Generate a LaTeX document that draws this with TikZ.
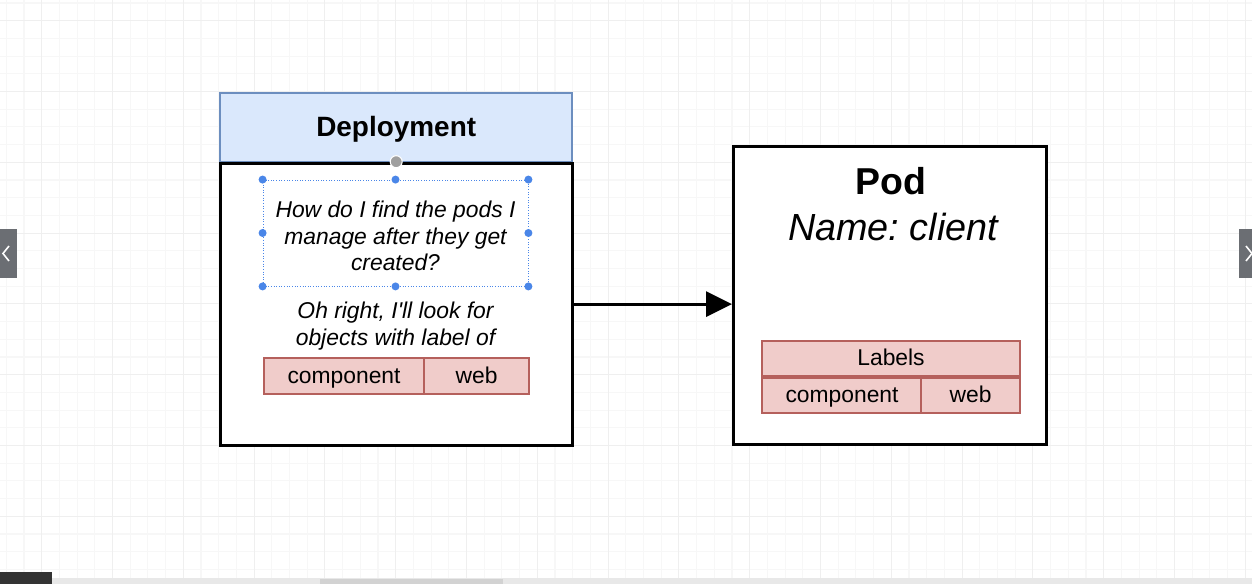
\documentclass[tikz,border=0pt]{standalone}
\usepackage{fontspec}
\setmainfont{Liberation Sans}
\usetikzlibrary{arrows.meta,positioning}
\definecolor{depfill}{HTML}{DAE8FC}
\definecolor{depline}{HTML}{6C8EBF}
\definecolor{lblfill}{HTML}{F0CCCA}
\definecolor{lblline}{HTML}{B5605C}
\definecolor{handle}{HTML}{4A86E8}
\definecolor{gridminor}{HTML}{F7F7F7}
\definecolor{gridmajor}{HTML}{EFEFEF}
\definecolor{chrome}{HTML}{6B6E73}
\tikzset{
  box/.style={draw=black, line width=1.7pt, fill=white, inner sep=0pt},
  header/.style={draw=depline, line width=1.4pt, fill=depfill, inner sep=0pt,
    text height=1.05em, text depth=0.08em,
    font=\fontsize{15.9}{19}\selectfont\bfseries},
  lblcell/.style={draw=lblline, line width=1.2pt, fill=lblfill, inner sep=0pt,
    text height=0.95em, text depth=0.13em,
    font=\fontsize{13}{15}\selectfont},
  note/.style={align=center, inner sep=0pt, font=\fontsize{13}{15}\selectfont\itshape},
  handledot/.style={circle, fill=handle, inner sep=0pt, minimum size=0.16cm},
}
\frenchspacing
\begin{document}
\begin{tikzpicture}[x=0.02cm,y=-0.02cm]
\useasboundingbox (0,0) rectangle (1252,584);
\fill[white] (0,0) rectangle (1252,584);
% background grid, one major line every four
\foreach \i in {0,...,70}
  \draw[gridminor, line width=0.6pt] (6.3+17.7*\i,0) -- (6.3+17.7*\i,584);
\foreach \j in {0,...,32}
  \draw[gridminor, line width=0.6pt] (0,3+17.7*\j) -- (1252,3+17.7*\j);
\foreach \i in {2,6,...,70}
  \draw[gridmajor, line width=0.6pt] (6.3+17.7*\i,0) -- (6.3+17.7*\i,584);
\foreach \j in {1,5,...,32}
  \draw[gridmajor, line width=0.6pt] (0,3+17.7*\j) -- (1252,3+17.7*\j);

% Deployment
\node[header, minimum width=7.04cm, minimum height=1.38cm, anchor=north west] (dephead) at (219,92) {Deployment};
\node[box, minimum width=7.04cm, minimum height=5.64cm, below=-1pt of dephead] (depbody) {};
\node[circle, fill=gray!75, draw=white, line width=0.6pt, minimum size=0.24cm, inner sep=0pt] (rotate) at (depbody.north) {};
\node[note] (question) at (395.5,236) {How do I find the pods I\\manage after they get\\created?};
\node[draw=handle, densely dotted, line width=0.5pt, minimum width=5.3cm, minimum height=2.12cm] (selbox) at (395.5,233) {};
\foreach \a/\n in {north west/nw, north/n, north east/ne, west/w, east/e, south west/sw, south/s, south east/se}
  \node[handledot] (sel-\n) at (selbox.\a) {};
\node[note] (answer) at (395.5,326) {Oh right, I\textquotesingle ll look for\\objects with label of};
\node[lblcell, minimum width=3.2cm, minimum height=0.72cm, anchor=north west] (depkey) at (263,357) {component};
\node[lblcell, minimum width=2.1cm, minimum height=0.72cm, right=-1.2pt of depkey] (depval) {web};

% Pod
\node[box, minimum width=6.26cm, minimum height=5.96cm, anchor=north west] (pod) at (732,145) {};
\node[font=\fontsize{21.3}{25}\selectfont\bfseries] (podtitle) at (891,181) {Pod};
\node[font=\fontsize{21.5}{25}\selectfont\itshape] (podname) at (893,227) {Name: client};
\node[lblcell, minimum width=5.16cm, minimum height=0.7cm, anchor=north west] (labelhead) at (761,340) {Labels};
\node[lblcell, minimum width=3.2cm, minimum height=0.69cm, anchor=north west] (podkey) at (labelhead.south west) {component};
\node[lblcell, minimum width=1.98cm, minimum height=0.69cm, anchor=north east] (podval) at (labelhead.south east) {web};

\draw[-{Triangle[length=0.52cm,width=0.5cm]}, line width=1.8pt] (depbody.east) -- (depbody.east -| pod.west);

% player chrome
\fill[chrome] (0,229) rectangle (17,278);
\draw[white, line width=0.9pt] (9,246) -- (3,253.5) -- (9,261);
\fill[chrome] (1239,229) rectangle (1252,278);
\draw[white, line width=0.9pt] (1246,246) -- (1252,253.5);
\draw[white, line width=0.9pt] (1246,261) -- (1252,253.5);
\fill[gray!18] (0,578) rectangle (1252,584);
\fill[gray!35] (320,579) rectangle (503,584);
\fill[black!80] (0,572) rectangle (52,584);
\end{tikzpicture}
\end{document}
